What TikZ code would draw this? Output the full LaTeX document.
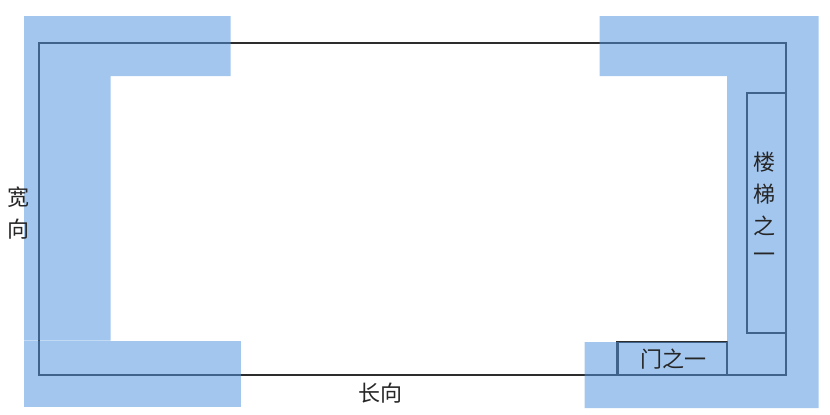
\documentclass[tikz,border=0pt]{standalone}
\usepackage{fontspec}
\setmainfont{Noto Sans CJK SC}
\definecolor{wallblue}{RGB}{82,148,225}
\definecolor{lineink}{RGB}{45,45,45}
\tikzset{
  wall/.style={fill=wallblue,fill opacity=0.53,draw=none},
  room/.style={draw=lineink,line width=2pt,rectangle,inner sep=0pt,outer sep=0pt},
  stairbox/.style={room,line width=2pt},
  doorbox/.style={room,line width=2.2pt},
  lbl/.style={font=\fontsize{22}{22}\selectfont,text=black!85,inner sep=0pt,outer sep=0pt}
}
\begin{document}
\begin{tikzpicture}[x=1pt,y=-1pt]
\useasboundingbox (0,0) rectangle (830,415);
% outlines lie under the translucent blue
\node[room,minimum width=747pt,minimum height=332pt] (hall) at (412,209) {};
\node[stairbox,minimum width=39pt,minimum height=240pt] (stair) at (766,213) {};
\node[doorbox,minimum width=109.5pt,minimum height=33pt] (door) at (672.2,358.5) {};
% blue areas
\fill[wall] (24,16) -- (230.5,16) -- (230.5,76) -- (110.5,76) -- (110.5,340.7) -- (24,340.7) -- cycle;
\fill[wall] (24,341.2) -- (241,341.2) -- (241,407) -- (24,407) -- cycle;
\fill[wall] (599.5,16) -- (818.5,16) -- (818.5,408) -- (584.5,408) -- (584.5,342) -- (727,342) -- (727,76) -- (599.5,76) -- cycle;
% labels
\node[lbl] (w1) at (19,197) {宽};
\node[lbl] (w2) at (19,229) {向};
\node[lbl] (s1) at (764.5,162) {楼};
\node[lbl] (s2) at (764.5,194) {梯};
\node[lbl] (s3) at (764.5,226) {之};
\node[lbl] (s4) at (764.5,258) {一};
\node[lbl] (d1) at (673,359) {门之一};
\node[lbl] (l1) at (380,393) {长向};
\end{tikzpicture}
\end{document}
